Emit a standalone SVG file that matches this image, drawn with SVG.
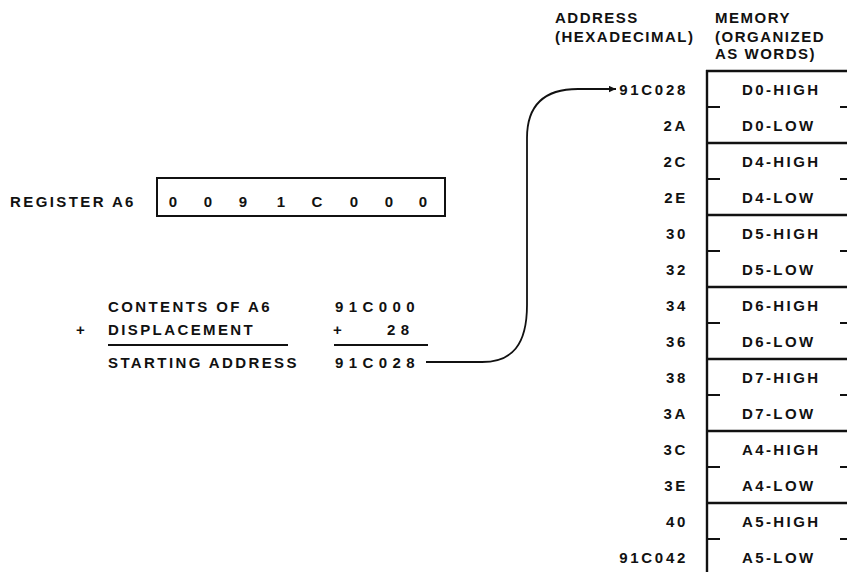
<svg xmlns="http://www.w3.org/2000/svg" width="847" height="572" viewBox="0 0 847 572">
<style>
text{font-family:"Liberation Sans",Arial,sans-serif;font-weight:bold;font-size:15px;fill:#111;letter-spacing:2.4px}
.hd{letter-spacing:1.5px}
.addr{text-anchor:end;letter-spacing:2.7px}
.calc{letter-spacing:5.4px}
.dig{text-anchor:middle;letter-spacing:0}
.ln{stroke:#111;stroke-width:2.4;fill:none}
.tk{stroke:#111;stroke-width:2;fill:none}
</style>
<defs>
<marker id="ah" viewBox="0 0 10 10" refX="10" refY="5" markerWidth="11" markerHeight="7" orient="auto" markerUnits="userSpaceOnUse">
<path d="M0,0.5 L10,5 L0,9.5 Z" fill="#111"/>
</marker>
</defs>
<rect width="847" height="572" fill="#fff"/>
<g id="headers">
<text class="hd" x="555" y="23">ADDRESS</text>
<text class="hd" x="555" y="42">(HEXADECIMAL)</text>
<text class="hd" x="715" y="23">MEMORY</text>
<text class="hd" x="715" y="42">(ORGANIZED</text>
<text class="hd" x="715" y="59">AS WORDS)</text>
</g>
<g id="register">
<text x="10" y="207">REGISTER A6</text>
<rect x="157" y="178" width="288" height="38" fill="none" stroke="#111" stroke-width="2"/>
<text class="dig" x="173" y="207">0</text>
<text class="dig" x="208" y="207">0</text>
<text class="dig" x="243" y="207">9</text>
<text class="dig" x="281" y="207">1</text>
<text class="dig" x="317" y="207">C</text>
<text class="dig" x="354" y="207">0</text>
<text class="dig" x="389" y="207">0</text>
<text class="dig" x="423" y="207">0</text>
</g>
<g id="calculation">
<text x="108" y="312">CONTENTS OF A6</text>
<text x="76" y="335">+</text>
<text x="108" y="335">DISPLACEMENT</text>
<line class="tk" x1="108" y1="345" x2="288" y2="345" stroke-width="1.6"/>
<text x="108" y="368">STARTING ADDRESS</text>
<text class="calc" x="335" y="312">91C000</text>
<text x="333" y="335">+</text>
<text class="calc" x="387" y="335">28</text>
<line class="tk" x1="334" y1="345" x2="428" y2="345" stroke-width="1.6"/>
<text class="calc" x="335" y="368">91C028</text>
</g>
<g id="memory">
<line class="ln" x1="707" y1="70" x2="707" y2="572"/>
<line class="ln" x1="706" y1="71" x2="847" y2="71"/>
<line class="ln" x1="707" y1="143" x2="847" y2="143"/>
<line class="ln" x1="707" y1="215" x2="847" y2="215"/>
<line class="ln" x1="707" y1="287" x2="847" y2="287"/>
<line class="ln" x1="707" y1="359" x2="847" y2="359"/>
<line class="ln" x1="707" y1="431" x2="847" y2="431"/>
<line class="ln" x1="707" y1="503" x2="847" y2="503"/>
<g class="tk">
<line x1="707" y1="107" x2="720" y2="107"/><line x1="840" y1="107" x2="847" y2="107"/>
<line x1="707" y1="179" x2="720" y2="179"/><line x1="840" y1="179" x2="847" y2="179"/>
<line x1="707" y1="251" x2="720" y2="251"/><line x1="840" y1="251" x2="847" y2="251"/>
<line x1="707" y1="323" x2="720" y2="323"/><line x1="840" y1="323" x2="847" y2="323"/>
<line x1="707" y1="395" x2="720" y2="395"/><line x1="840" y1="395" x2="847" y2="395"/>
<line x1="707" y1="467" x2="720" y2="467"/><line x1="840" y1="467" x2="847" y2="467"/>
<line x1="707" y1="539" x2="720" y2="539"/><line x1="840" y1="539" x2="847" y2="539"/>
</g>
<text x="742" y="95">D0-HIGH</text>
<text x="742" y="131">D0-LOW</text>
<text x="742" y="167">D4-HIGH</text>
<text x="742" y="203">D4-LOW</text>
<text x="742" y="239">D5-HIGH</text>
<text x="742" y="275">D5-LOW</text>
<text x="742" y="311">D6-HIGH</text>
<text x="742" y="347">D6-LOW</text>
<text x="742" y="383">D7-HIGH</text>
<text x="742" y="419">D7-LOW</text>
<text x="742" y="455">A4-HIGH</text>
<text x="742" y="491">A4-LOW</text>
<text x="742" y="527">A5-HIGH</text>
<text x="742" y="563">A5-LOW</text>
</g>
<g id="addresses">
<text class="addr" x="688" y="95">91C028</text>
<text class="addr" x="688" y="131">2A</text>
<text class="addr" x="688" y="167">2C</text>
<text class="addr" x="688" y="203">2E</text>
<text class="addr" x="688" y="239">30</text>
<text class="addr" x="688" y="275">32</text>
<text class="addr" x="688" y="311">34</text>
<text class="addr" x="688" y="347">36</text>
<text class="addr" x="688" y="383">38</text>
<text class="addr" x="688" y="419">3A</text>
<text class="addr" x="688" y="455">3C</text>
<text class="addr" x="688" y="491">3E</text>
<text class="addr" x="688" y="527">40</text>
<text class="addr" x="688" y="563">91C042</text>
</g>
<g id="connectors">
<path d="M426,362 L482,362 C512,362 527,345 527,305 L527,138 C527,105 545,89 578,89 L616,89" fill="none" stroke="#111" stroke-width="1.8" marker-end="url(#ah)"/>
</g>
</svg>
